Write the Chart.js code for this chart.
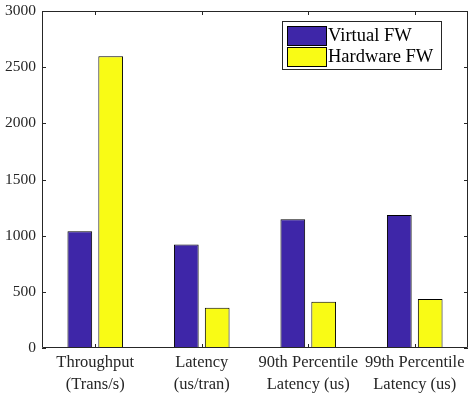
<!DOCTYPE html>
<html>
<head>
<meta charset="utf-8">
<script src="https://cdn.jsdelivr.net/npm/chart.js@4/dist/chart.umd.min.js"></script>
<style>
  html, body { margin: 0; padding: 0; background: #fff; }
  #wrap { width: 468px; height: 397px; position: relative; }
</style>
</head>
<body>
<div id="wrap"><canvas id="mainChart"></canvas></div>
<script>
// values
const categories = [
    ['Throughput', '(Trans/s)'],
    ['Latency', '(us/tran)'],
    ['90th Percentile', 'Latency (us)'],
    ['99th Percentile', 'Latency (us)']
];
const virtualFW = [1040, 922, 1146, 1184];
const hardwareFW = [2598, 358, 412, 436];
const yTicks = [0, 500, 1000, 1500, 2000, 2500, 3000];

const AXIS = '#262626';
const TICK_FONT = '"Liberation Serif", "DejaVu Serif", serif';

// MATLAB-ish frame: box outline + inward ticks + legend inside the axes
const framePlugin = {
    id: 'frame',
    afterDraw(chart) {
        const { ctx, chartArea: a, scales } = chart;
        ctx.save();
        ctx.strokeStyle = AXIS;
        ctx.lineWidth = 1;
        ctx.beginPath();
        ctx.moveTo(a.left + 0.5, a.top + 0.5);
        ctx.lineTo(a.right - 0.5, a.top + 0.5);
        ctx.lineTo(a.right - 0.5, a.bottom - 0.5);
        ctx.lineTo(a.left + 0.5, a.bottom - 0.5);
        ctx.closePath();
        ctx.stroke();

        ctx.beginPath();
        yTicks.forEach(v => {
            const y = Math.round(scales.y.getPixelForValue(v)) + 0.5;
            ctx.moveTo(a.left, y); ctx.lineTo(a.left + 4, y);
            ctx.moveTo(a.right, y); ctx.lineTo(a.right - 4, y);
        });
        categories.forEach((c, i) => {
            const x = Math.round(scales.x.getPixelForValue(i)) + 0.5;
            ctx.moveTo(x, a.bottom); ctx.lineTo(x, a.bottom - 4);
            ctx.moveTo(x, a.top); ctx.lineTo(x, a.top + 4);
        });
        ctx.stroke();

        const lx = 282, ly = 21, lw = 159, lh = 48;
        ctx.fillStyle = '#fff';
        ctx.fillRect(lx, ly, lw, lh);
        ctx.strokeStyle = AXIS;
        ctx.strokeRect(lx + 0.5, ly + 0.5, lw, lh);
        ctx.font = '18.5px "Liberation Serif", serif';
        ctx.textBaseline = 'middle';
        chart.data.datasets.forEach((ds, i) => {
            const sy = ly + 5 + i * 21;
            ctx.fillStyle = ds.backgroundColor;
            ctx.fillRect(lx + 5, sy, 39, 19);
            ctx.strokeStyle = '#000';
            ctx.strokeRect(lx + 5.5, sy + 0.5, 39, 19);
            ctx.fillStyle = '#000';
            ctx.fillText(ds.label, lx + 46, sy + 10);
        });
        ctx.restore();
    }
};

new Chart(document.getElementById('mainChart').getContext('2d'), {
    type: 'bar',
    data: {
        labels: categories,
        datasets: [
            { label: 'Virtual FW', data: virtualFW, backgroundColor: '#3e26a8', borderColor: '#000', borderWidth: 1, borderSkipped: false },
            { label: 'Hardware FW', data: hardwareFW, backgroundColor: '#f9fb15', borderColor: '#000', borderWidth: 1, borderSkipped: false }
        ]
    },
    options: {
        responsive: true,
        maintainAspectRatio: false,
        animation: false,
        categoryPercentage: 0.58,
        barPercentage: 0.8,
        layout: { padding: { top: 11, right: 0, left: 0, bottom: 0 } },
        plugins: { legend: { display: false }, tooltip: { enabled: false } },
        scales: {
            x: {
                grid: { display: false, drawTicks: false, tickLength: 0 },
                border: { display: false },
                ticks: {
                    color: AXIS,
                    padding: 4,
                    maxRotation: 0,
                    autoSkip: false,
                    font: { family: TICK_FONT, size: 16.5, lineHeight: 1.33 }
                },
                afterFit(s) { s.height = 49; s.paddingLeft = 0; s.paddingRight = 0; }
            },
            y: {
                min: 0,
                max: 3000,
                grid: { display: false, drawTicks: false, tickLength: 0 },
                border: { display: false },
                afterBuildTicks(s) { s.ticks = yTicks.map(v => ({ value: v })); },
                ticks: {
                    color: AXIS,
                    padding: 6,
                    callback: v => String(v),
                    font: { family: TICK_FONT, size: 15.5 }
                },
                afterFit(s) { s.width = 42; s.paddingTop = 0; s.paddingBottom = 0; }
            }
        }
    },
    plugins: [framePlugin]
});
</script>
</body>
</html>
